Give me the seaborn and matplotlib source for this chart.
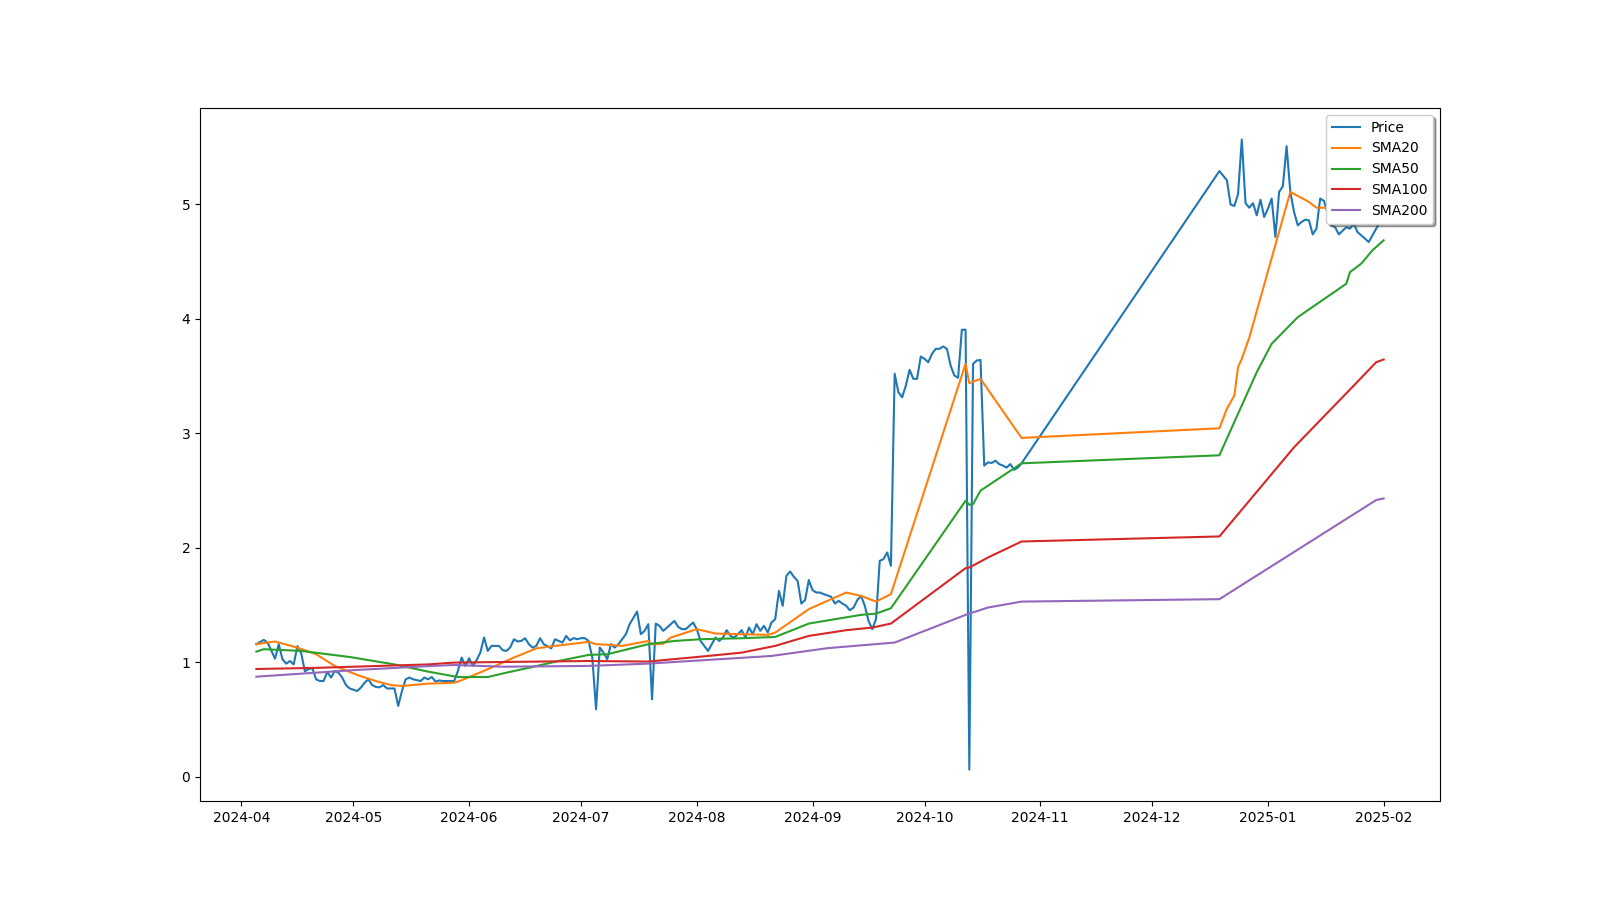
import matplotlib
matplotlib.use("Agg")
import matplotlib.pyplot as plt
import matplotlib.dates as mdates
import pandas as pd
import seaborn as sns

# all x values are days after this date
START = pd.Timestamp("2024-04-01")

price_day = [4, 6, 7, 9, 10, 11, 12, 13, 14, 15, 16, 17, 18, 19, 20, 21, 22, 23, 24, 25,
             26, 27, 28, 29, 31, 32, 33, 34, 35, 36, 37, 38, 39, 40, 41, 42, 43, 44, 45, 46,
             48, 49, 50, 51, 52, 53, 54, 55, 57, 58, 59, 60, 61, 62, 63, 64, 65, 66, 67, 69,
             70, 71, 72, 73, 74, 75, 76, 77, 78, 79, 80, 81, 83, 84, 85, 86, 87, 88, 89, 90,
             91, 92, 93, 94, 95, 96, 97, 98, 99, 100, 101, 103, 104, 106, 107, 108, 109, 110,
             111, 112, 113, 114, 116, 117, 118, 119, 121, 122, 123, 124, 125, 126, 127, 128,
             129, 130, 131, 132, 133, 134, 135, 136, 137, 138, 139, 140, 141, 142, 143, 144,
             145, 146, 147, 148, 149, 150, 151, 152, 153, 154, 155, 156, 158, 159, 160, 161,
             162, 163, 164, 165, 166, 167, 168, 169, 170, 171, 172, 173, 174, 175, 176, 177,
             178, 179, 180, 181, 182, 183, 184, 185, 186, 187, 188, 189, 190, 191, 192, 193,
             194, 195, 196, 197, 198, 199, 200, 201, 202, 203, 204, 205, 206, 207, 208, 209,
             262, 264, 265, 266, 267, 268, 269, 270, 271, 272, 273, 274, 275, 276, 277, 278,
             279, 280, 281, 282, 283, 284, 285, 286, 287, 288, 289, 290, 292, 293, 294, 296,
             297, 298, 299, 301, 302, 304, 305, 306]
price_val = [1.157, 1.194, 1.171, 1.03, 1.157, 1.025, 0.987, 1.01, 0.98, 1.14, 1.08, 0.92,
             0.94, 0.947, 0.85, 0.835, 0.835, 0.914, 0.865, 0.923, 0.908, 0.865, 0.80, 0.77,
             0.748, 0.777, 0.82, 0.85, 0.80, 0.783, 0.78, 0.80, 0.77, 0.77, 0.77, 0.617, 0.748,
             0.85, 0.865, 0.85, 0.835, 0.865, 0.85, 0.87, 0.83, 0.84, 0.835, 0.835, 0.835,
             0.923, 1.04, 0.967, 1.034, 0.967, 1.017, 1.083, 1.215, 1.098, 1.142, 1.142, 1.104,
             1.098, 1.128, 1.2, 1.18, 1.186, 1.209, 1.157, 1.127, 1.142, 1.209, 1.157, 1.12,
             1.2, 1.186, 1.171, 1.229, 1.19, 1.21, 1.2, 1.21, 1.209, 1.186, 1.04, 0.588, 1.127,
             1.083, 1.025, 1.157, 1.127, 1.157, 1.244, 1.332, 1.442, 1.244, 1.273, 1.332,
             0.675, 1.337, 1.317, 1.273, 1.302, 1.36, 1.308, 1.288, 1.288, 1.346, 1.288, 1.185,
             1.142, 1.098, 1.157, 1.215, 1.185, 1.215, 1.279, 1.229, 1.215, 1.244, 1.279,
             1.215, 1.302, 1.244, 1.332, 1.273, 1.317, 1.259, 1.346, 1.375, 1.623, 1.492,
             1.754, 1.792, 1.745, 1.71, 1.512, 1.542, 1.717, 1.629, 1.608, 1.608, 1.594, 1.571,
             1.512, 1.535, 1.512, 1.492, 1.454, 1.477, 1.542, 1.579, 1.492, 1.36, 1.288, 1.375,
             1.885, 1.9, 1.958, 1.842, 3.519, 3.358, 3.314, 3.416, 3.554, 3.475, 3.475, 3.67,
             3.65, 3.62, 3.694, 3.737, 3.737, 3.758, 3.737, 3.59, 3.504, 3.484, 3.904, 3.904,
             0.062, 3.606, 3.635, 3.64, 2.717, 2.745, 2.74, 2.76, 2.73, 2.717, 2.70, 2.73,
             2.68, 2.70, 2.737,
             5.29, 5.21, 4.998, 4.985, 5.09, 5.566, 5.01, 4.97, 5.01, 4.904, 5.04, 4.889,
             4.962, 5.05, 4.714, 5.108, 5.157, 5.507, 5.108, 4.933, 4.816, 4.845, 4.866, 4.86,
             4.737, 4.787, 5.05, 5.03, 4.816, 4.80, 4.737, 4.80, 4.787, 4.83, 4.757, 4.70,
             4.67, 4.787, 4.845, 4.98]

sma20_day = [4, 9, 15, 20, 25, 31, 36, 40, 43, 50, 57, 59, 66, 73, 79, 84, 88, 93, 95, 99,
             102, 109, 110, 113, 115, 122, 127, 134, 141, 143, 152, 162, 166, 170, 174, 194,
             195, 198, 209, 262, 264, 266, 267, 268, 270, 281, 286, 288, 291, 306]
sma20_val = [1.157, 1.18, 1.127, 1.069, 0.967, 0.888, 0.835, 0.80, 0.792, 0.812, 0.82, 0.842,
             0.938, 1.04, 1.12, 1.142, 1.157, 1.177, 1.157, 1.15, 1.142, 1.185, 1.157, 1.16,
             1.215, 1.288, 1.25, 1.244, 1.238, 1.258, 1.463, 1.608, 1.579, 1.529, 1.594, 3.606,
             3.437, 3.475, 2.959, 3.043, 3.213, 3.329, 3.577, 3.65, 3.834, 5.108, 5.02, 4.97,
             4.97, 4.95]

sma50_day = [4, 6, 16, 29, 41, 50, 58, 66, 71, 78, 85, 93, 98, 109, 116, 123, 134, 143, 152,
             166, 170, 174, 194, 195, 196, 198, 209, 262, 272, 276, 283, 296, 297, 300, 303, 306]
sma50_val = [1.092, 1.113, 1.098, 1.045, 0.98, 0.917, 0.87, 0.87, 0.908, 0.958, 1.01, 1.063,
             1.069, 1.157, 1.185, 1.2, 1.209, 1.22, 1.337, 1.413, 1.424, 1.471, 2.41, 2.375,
             2.38, 2.498, 2.737, 2.807, 3.533, 3.781, 4.014, 4.306, 4.408, 4.481, 4.598, 4.685]

sma100_day = [4, 20, 50, 57, 93, 109, 125, 134, 143, 152, 162, 169, 174, 194, 195, 200, 209,
              262, 282, 298, 304, 306]
sma100_val = [0.94, 0.95, 0.98, 0.996, 1.01, 1.005, 1.054, 1.083, 1.142, 1.229, 1.279, 1.302,
              1.337, 1.821, 1.826, 1.914, 2.054, 2.098, 2.877, 3.416, 3.62, 3.644]

sma200_day = [4, 30, 50, 57, 70, 93, 109, 142, 157, 175, 194, 200, 209, 262, 304, 306]
sma200_val = [0.873, 0.93, 0.965, 0.975, 0.96, 0.967, 0.987, 1.054, 1.122, 1.171, 1.413,
              1.477, 1.529, 1.55, 2.416, 2.43]

series = [
    ("Price", price_day, price_val),
    ("SMA20", sma20_day, sma20_val),
    ("SMA50", sma50_day, sma50_val),
    ("SMA100", sma100_day, sma100_val),
    ("SMA200", sma200_day, sma200_val),
]

fig, ax = plt.subplots(figsize=(16, 9), dpi=100)
for i, (name, days, vals) in enumerate(series):
    dates = START + pd.to_timedelta(days, unit="D")
    sns.lineplot(x=dates, y=vals, ax=ax, label=name, color=f"C{i}", linewidth=1.5)

ax.xaxis.set_major_locator(mdates.MonthLocator())
ax.xaxis.set_major_formatter(mdates.DateFormatter("%Y-%m"))
ax.set_xlabel("")
ax.set_ylabel("")
ax.legend(loc="upper right", shadow=True)

fig.savefig("out.png", dpi=100)
